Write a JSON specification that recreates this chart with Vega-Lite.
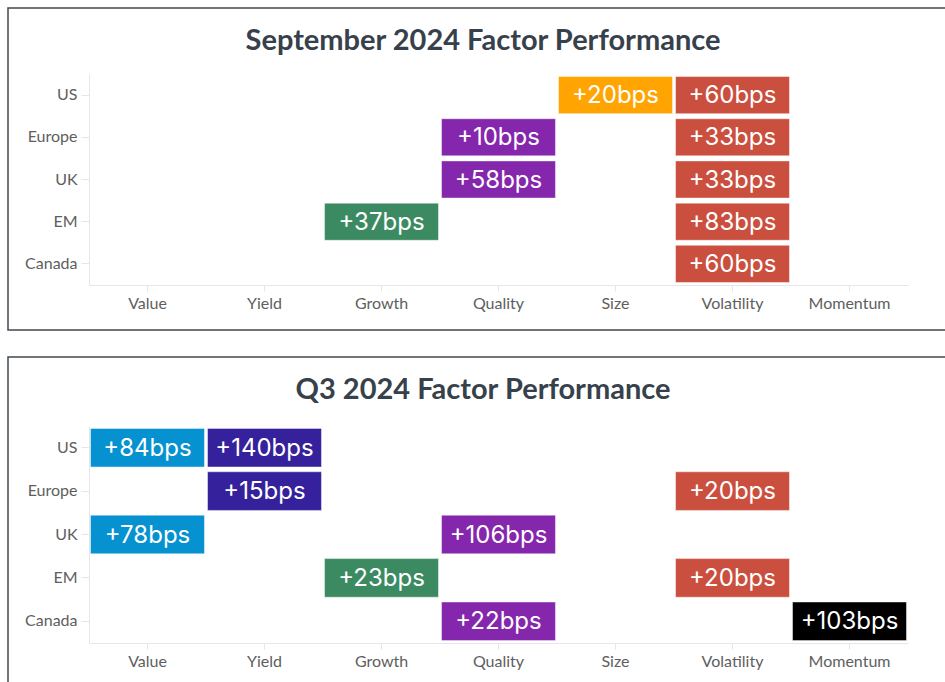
{
  "$schema": "https://vega.github.io/schema/vega-lite/v6.json",
  "background": "white",
  "padding": {"left": 7, "top": 7, "right": 0, "bottom": 0},
  "spacing": 25,
  "datasets": {
    "sep": [
      {"region": "US", "factor": "Size", "bps": 20, "label": "+20bps"},
      {"region": "US", "factor": "Volatility", "bps": 60, "label": "+60bps"},
      {"region": "Europe", "factor": "Quality", "bps": 10, "label": "+10bps"},
      {"region": "Europe", "factor": "Volatility", "bps": 33, "label": "+33bps"},
      {"region": "UK", "factor": "Quality", "bps": 58, "label": "+58bps"},
      {"region": "UK", "factor": "Volatility", "bps": 33, "label": "+33bps"},
      {"region": "EM", "factor": "Growth", "bps": 37, "label": "+37bps"},
      {"region": "EM", "factor": "Volatility", "bps": 83, "label": "+83bps"},
      {"region": "Canada", "factor": "Volatility", "bps": 60, "label": "+60bps"}
    ],
    "q3": [
      {"region": "US", "factor": "Value", "bps": 84, "label": "+84bps"},
      {"region": "US", "factor": "Yield", "bps": 140, "label": "+140bps"},
      {"region": "Europe", "factor": "Yield", "bps": 15, "label": "+15bps"},
      {"region": "Europe", "factor": "Volatility", "bps": 20, "label": "+20bps"},
      {"region": "UK", "factor": "Value", "bps": 78, "label": "+78bps"},
      {"region": "UK", "factor": "Quality", "bps": 106, "label": "+106bps"},
      {"region": "EM", "factor": "Growth", "bps": 23, "label": "+23bps"},
      {"region": "EM", "factor": "Volatility", "bps": 20, "label": "+20bps"},
      {"region": "Canada", "factor": "Quality", "bps": 22, "label": "+22bps"},
      {"region": "Canada", "factor": "Momentum", "bps": 103, "label": "+103bps"}
    ]
  },
  "vconcat": [
    {
      "width": 938,
      "height": 322,
      "title": {"text": "September 2024 Factor Performance", "offset": -48, "dx": 6},
      "data": {"name": "sep"},
      "encoding": {
        "x": {
          "field": "factor", "type": "nominal",
          "scale": {"domain": ["Value", "Yield", "Growth", "Quality", "Size", "Volatility", "Momentum"], "range": [81, 900], "paddingInner": 0.026, "paddingOuter": 0.013},
          "axis": {"title": null, "orient": "bottom", "offset": -45, "labelAngle": 0}
        },
        "y": {
          "field": "region", "type": "nominal",
          "scale": {"domain": ["US", "Europe", "UK", "EM", "Canada"], "range": [66, 277], "paddingInner": 0.12, "paddingOuter": 0.06},
          "axis": {"title": null, "orient": "left", "offset": -81, "tickSize": 8}
        }
      },
      "layer": [
        {
          "mark": {"type": "bar", "stroke": "white", "strokeOpacity": 0.45, "strokeWidth": 1},
          "encoding": {
            "color": {
              "field": "factor", "type": "nominal", "legend": null,
              "scale": {"domain": ["Value", "Yield", "Growth", "Quality", "Size", "Volatility", "Momentum"], "range": ["#0692d0", "#35219b", "#3c8a62", "#8527ad", "#ffa400", "#cb4f3e", "#000000"]}
            }
          }
        },
        {
          "mark": {"type": "text", "color": "white", "font": "Inter", "fontSize": 24, "baseline": "middle", "align": "center", "dy": 1},
          "encoding": {"text": {"field": "label"}}
        }
      ]
    },
    {
      "width": 938,
      "height": 328,
      "title": {"text": "Q3 2024 Factor Performance", "offset": -48, "dx": 6},
      "data": {"name": "q3"},
      "encoding": {
        "x": {
          "field": "factor", "type": "nominal",
          "scale": {"domain": ["Value", "Yield", "Growth", "Quality", "Size", "Volatility", "Momentum"], "range": [81, 900], "paddingInner": 0.026, "paddingOuter": 0.013},
          "axis": {"title": null, "orient": "bottom", "offset": -42, "labelAngle": 0}
        },
        "y": {
          "field": "region", "type": "nominal",
          "scale": {"domain": ["US", "Europe", "UK", "EM", "Canada"], "range": [69, 286], "paddingInner": 0.11, "paddingOuter": 0.055},
          "axis": {"title": null, "orient": "left", "offset": -81, "tickSize": 8}
        }
      },
      "layer": [
        {
          "mark": {"type": "bar", "stroke": "white", "strokeOpacity": 0.45, "strokeWidth": 1},
          "encoding": {
            "color": {
              "field": "factor", "type": "nominal", "legend": null,
              "scale": {"domain": ["Value", "Yield", "Growth", "Quality", "Size", "Volatility", "Momentum"], "range": ["#0692d0", "#35219b", "#3c8a62", "#8527ad", "#ffa400", "#cb4f3e", "#000000"]}
            }
          }
        },
        {
          "mark": {"type": "text", "color": "white", "font": "Inter", "fontSize": 24, "baseline": "middle", "align": "center", "dy": 1},
          "encoding": {"text": {"field": "label"}}
        }
      ]
    }
  ],
  "config": {
    "font": "Lato",
    "view": {"stroke": "#41484f", "strokeWidth": 1.5},
    "title": {"font": "Lato", "fontSize": 29, "fontWeight": "bold", "color": "#37414b", "anchor": "middle", "frame": "group"},
    "axis": {
      "labelFont": "Lato", "labelFontSize": 16, "labelColor": "#5e5e5e",
      "domainColor": "#e6e6e6", "tickColor": "#e6e6e6", "grid": false,
      "labelPadding": 4, "tickSize": 6
    }
  }
}
